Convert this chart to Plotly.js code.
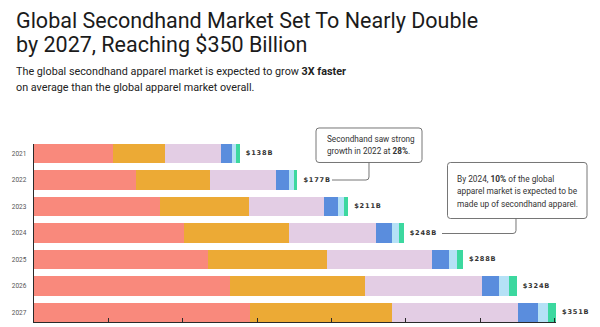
<!DOCTYPE html>
<html>
<head>
<meta charset="utf-8">
<script src="https://cdn.plot.ly/plotly-3.0.1.min.js"></script>
<style>
html,body{margin:0;padding:0;background:#fff;}
#chart{width:600px;height:327px;}
.textpoint text{letter-spacing:0.8px;}
</style>
</head>
<body>
<div id="chart"></div>
<script>
// ---- data ----
const years = ['2021', '2022', '2023', '2024', '2025', '2026', '2027'];
const seg1 = [53.0, 68.5, 84.5, 100.6, 116.9, 131.5, 145.5];
const seg2 = [35.4, 49.6, 60.0, 70.8, 80.3, 90.9, 94.9];
const seg3 = [37.5, 44.4, 50.3, 58.8, 70.1, 78.6, 84.9];
const seg4 = [7.1, 8.7, 9.4, 10.6, 11.8, 11.8, 13.7];
const seg5 = [2.6, 3.5, 4.3, 4.7, 5.4, 6.6, 6.4];
const seg6 = [2.8, 2.4, 2.8, 3.1, 4.0, 5.2, 5.6];
const totalLabels = ['$138B', '$177B', '$211B', '$248B', '$288B', '$324B', '$351B'];
const segNames = ['Segment 1', 'Segment 2', 'Segment 3', 'Segment 4', 'Segment 5', 'Segment 6'];
const segColors = ['#F9897C', '#ECAA35', '#E3CDE4', '#5A8DDD', '#B5E1F6', '#3CD89F'];

const segs = [seg1, seg2, seg3, seg4, seg5, seg6];
const totals = years.map((_, i) => segs.reduce((s, a) => s + a[i], 0));

// ---- layout geometry (pixels) ----
const L = 34, T = 144, W = 522, H = 178;
const px = x => (x - L) / W;
const py = y => (T + H - y) / H;
const P = (x, y) => px(x).toFixed(5) + ',' + py(y).toFixed(5);

function roundRect(x0, y0, x1, y1, r) {
  return 'M' + P(x0 + r, y0) + ' L' + P(x1 - r, y0) + ' Q' + P(x1, y0) + ' ' + P(x1, y0 + r) +
    ' L' + P(x1, y1 - r) + ' Q' + P(x1, y1) + ' ' + P(x1 - r, y1) +
    ' L' + P(x0 + r, y1) + ' Q' + P(x0, y1) + ' ' + P(x0, y1 - r) +
    ' L' + P(x0, y0 + r) + ' Q' + P(x0, y0) + ' ' + P(x0 + r, y0) + ' Z';
}
function elbow(xTop, yTop, yBot, xEnd, r) {
  return 'M' + P(xTop, yTop) + ' L' + P(xTop, yBot - r) + ' Q' + P(xTop, yBot) + ' ' + P(xTop - r, yBot) +
    ' L' + P(xEnd, yBot);
}

const traces = segs.map((s, k) => ({
  type: 'bar', orientation: 'h', y: years, x: s, name: segNames[k],
  marker: {color: segColors[k], line: {width: 0}},
  hoverinfo: 'x+y+name'
}));
traces.push({
  type: 'scatter', mode: 'markers+text', x: totals, y: years, text: totalLabels,
  marker: {size: 8, opacity: 0, color: '#fff'},
  textposition: 'middle right', cliponaxis: false, showlegend: false, hoverinfo: 'skip',
  textfont: {family: 'DejaVu Sans, sans-serif', size: 6.6, color: '#333', weight: 'bold'}
});

const FONT = 'Roboto, "Noto Sans", sans-serif';
const annotations = [];
// title lines
annotations.push({xref: 'paper', yref: 'paper', x: px(14), y: py(20), xanchor: 'left', yanchor: 'middle',
  text: 'Global Secondhand Market Set To Nearly Double', showarrow: false,
  font: {family: FONT, size: 21.5, color: '#1b1b1b'}});
annotations.push({xref: 'paper', yref: 'paper', x: px(14), y: py(44.5), xanchor: 'left', yanchor: 'middle',
  text: 'by 2027, Reaching $350 Billion', showarrow: false,
  font: {family: FONT, size: 21.5, color: '#1b1b1b'}});
// subtitle
annotations.push({xref: 'paper', yref: 'paper', x: px(14), y: py(72), xanchor: 'left', yanchor: 'middle',
  text: 'The global secondhand apparel market is expected to grow <b>3X faster</b>', showarrow: false,
  font: {family: FONT, size: 10.8, color: '#222'}});
annotations.push({xref: 'paper', yref: 'paper', x: px(14), y: py(87.5), xanchor: 'left', yanchor: 'middle',
  text: 'on average than the global apparel market overall.', showarrow: false,
  font: {family: FONT, size: 10.8, color: '#222'}});
// callout texts
const box1 = ['Secondhand saw strong', 'growth in 2022 at <b>28%</b>.'];
const box1Y = [139, 151];
box1.forEach((t, i) => annotations.push({xref: 'paper', yref: 'paper', x: px(325), y: py(box1Y[i]),
  xanchor: 'left', yanchor: 'middle', text: t, showarrow: false,
  font: {family: FONT, size: 8.2, color: '#333'}}));
const box2 = ['By 2024, <b>10%</b> of the global', 'apparel market is expected to be', 'made up of secondhand apparel.'];
const box2Y = [178.5, 191, 203.5];
box2.forEach((t, i) => annotations.push({xref: 'paper', yref: 'paper', x: px(455), y: py(box2Y[i]),
  xanchor: 'left', yanchor: 'middle', text: t, showarrow: false,
  font: {family: FONT, size: 8.3, color: '#333'}}));

const shapes = [
  {type: 'path', xref: 'paper', yref: 'paper', path: roundRect(316, 128, 422, 162.5, 3),
    line: {color: '#666', width: 0.9}, fillcolor: '#fff'},
  {type: 'path', xref: 'paper', yref: 'paper', path: elbow(369, 162.5, 180, 332, 3),
    line: {color: '#666', width: 0.9}},
  {type: 'path', xref: 'paper', yref: 'paper', path: roundRect(447.5, 162.5, 587, 218.5, 3),
    line: {color: '#666', width: 0.9}, fillcolor: '#fff'},
  {type: 'path', xref: 'paper', yref: 'paper', path: elbow(516, 218.5, 233.5, 442, 3),
    line: {color: '#666', width: 0.9}}
];

const layout = {
  width: 600, height: 327,
  margin: {l: L, r: 600 - L - W, t: T, b: 327 - T - H, pad: 0},
  paper_bgcolor: '#fff', plot_bgcolor: '#fff',
  barmode: 'stack', bargap: 0.275, showlegend: false,
  xaxis: {range: [0, 351], showgrid: false, zeroline: false, showline: true, linecolor: '#2a2a2a', linewidth: 1.3,
    ticks: 'inside', ticklen: 4, tickwidth: 1, tickcolor: '#2a2a2a', tick0: 0, dtick: 50, showticklabels: false},
  yaxis: {type: 'category', categoryorder: 'array', categoryarray: years, range: [6.3635, -0.3635],
    showgrid: false, zeroline: false, showline: true, linecolor: '#2a2a2a', linewidth: 1.3,
    ticks: '', ticklabelstandoff: 5, tickfont: {family: FONT, size: 6.5, color: '#555'}},
  annotations: annotations, shapes: shapes,
  font: {family: FONT}
};

Plotly.newPlot('chart', traces, layout, {displayModeBar: false, staticPlot: true});
</script>
</body>
</html>
